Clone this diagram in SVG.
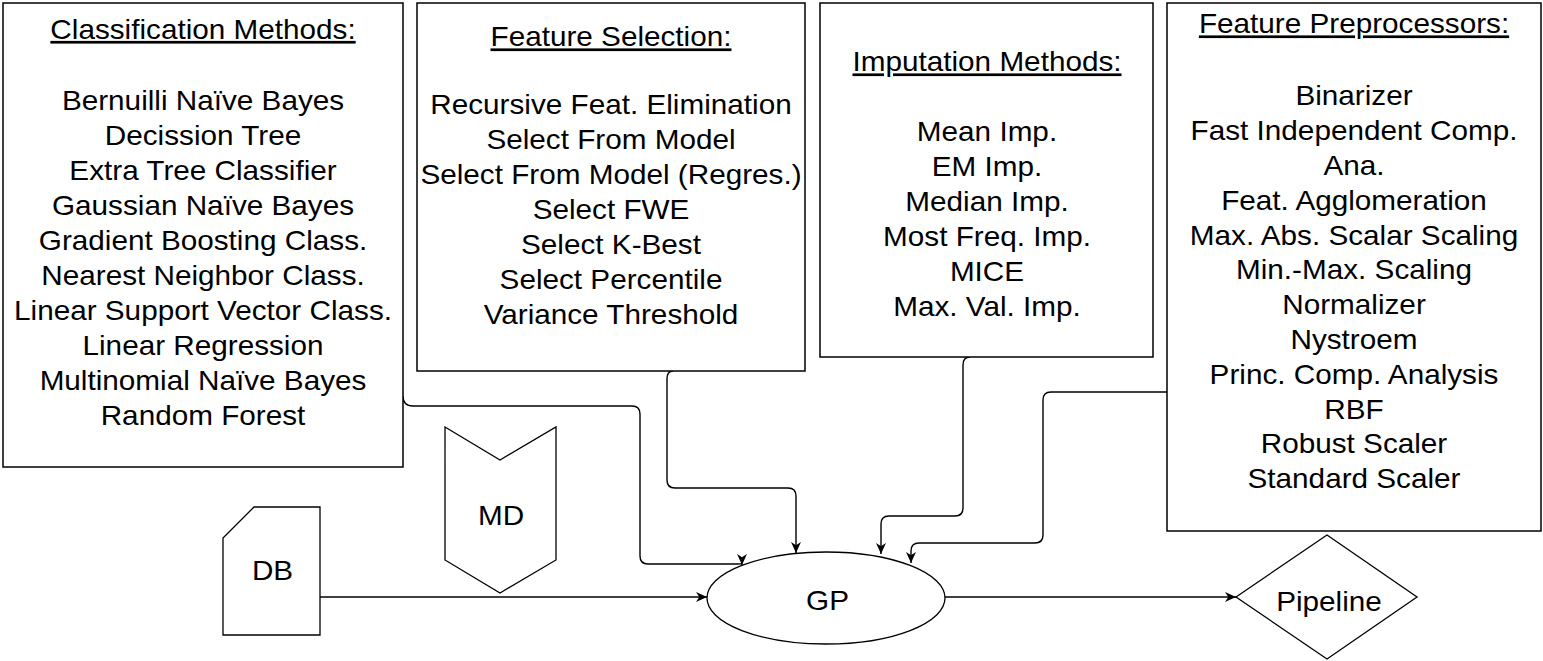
<svg xmlns="http://www.w3.org/2000/svg" width="1543" height="661" viewBox="0 0 1543 661">
<style>
.box{fill:#fff;stroke:#000;stroke-width:1.5}
.shape{fill:#fff;stroke:#000;stroke-width:1.3}
.t{font-family:"Liberation Sans",Arial,sans-serif;font-size:27px;fill:#000;text-anchor:middle}
.h{text-decoration:underline}
.c{fill:none;stroke:#000;stroke-width:1.4}
</style>
<defs>
<marker id="arr" viewBox="0 0 10 10" refX="10" refY="5" markerWidth="11" markerHeight="11" markerUnits="userSpaceOnUse" orient="auto">
<path d="M0,0.5 L10,5 L0,9.5 L3,5 z" fill="#000"/>
</marker>
</defs>
<rect width="1543" height="661" fill="#fff"/>
<g id="connectors">
<path class="c" d="M403,396 Q403,406 413,406 L632,406 Q640,406 640,414 L640,556 Q640,564 648,564 L738,564 Q742,564 742,563 L742,565" marker-end="url(#arr)"/>
<path class="c" d="M673,371 Q667,371 667,379 L667,480 Q667,488 675,488 L788,488 Q796,488 796,496 L796,553" marker-end="url(#arr)"/>
<path class="c" d="M970,357 Q963,357 963,365 L963,508 Q963,516 955,516 L889,516 Q881,516 881,524 L881,554" marker-end="url(#arr)"/>
<path class="c" d="M1167,392 L1051,392 Q1043,392 1043,400 L1043,535 Q1043,543 1035,543 L919,543 Q911,543 911,551 L911,563" marker-end="url(#arr)"/>
<path class="c" d="M320,597 L707,597" marker-end="url(#arr)"/>
<path class="c" d="M945,597 L1236,597" marker-end="url(#arr)"/>
</g>
<g id="classification">
<rect class="box" x="3" y="3" width="400" height="464"/>
<g transform="translate(203,0) scale(1.1,1)">
<text class="t h" x="0" y="39">Classification Methods:</text>
<text class="t" x="0" y="110.5">Bernuilli Naïve Bayes</text>
<text class="t" x="0" y="145.4">Decission Tree</text>
<text class="t" x="0" y="180.3">Extra Tree Classifier</text>
<text class="t" x="0" y="215.2">Gaussian Naïve Bayes</text>
<text class="t" x="0" y="250.1">Gradient Boosting Class.</text>
<text class="t" x="0" y="285">Nearest Neighbor Class.</text>
<text class="t" x="0" y="319.9">Linear Support Vector Class.</text>
<text class="t" x="0" y="354.8">Linear Regression</text>
<text class="t" x="0" y="389.7">Multinomial Naïve Bayes</text>
<text class="t" x="0" y="424.6">Random Forest</text>
</g>
</g>
<g id="feature-selection">
<rect class="box" x="417" y="3" width="388" height="368"/>
<g transform="translate(611,0) scale(1.1,1)">
<text class="t h" x="0" y="46.5">Feature Selection:</text>
<text class="t" x="0" y="114.5">Recursive Feat. Elimination</text>
<text class="t" x="0" y="149.5">Select From Model</text>
<text class="t" x="0" y="184.5">Select From Model (Regres.)</text>
<text class="t" x="0" y="219.5">Select FWE</text>
<text class="t" x="0" y="254.5">Select K-Best</text>
<text class="t" x="0" y="289.5">Select Percentile</text>
<text class="t" x="0" y="324.5">Variance Threshold</text>
</g>
</g>
<g id="imputation">
<rect class="box" x="820" y="3" width="333" height="354"/>
<g transform="translate(987,0) scale(1.1,1)">
<text class="t h" x="0" y="71.5">Imputation Methods:</text>
<text class="t" x="0" y="141.5">Mean Imp.</text>
<text class="t" x="0" y="176.5">EM Imp.</text>
<text class="t" x="0" y="211.5">Median Imp.</text>
<text class="t" x="0" y="246.5">Most Freq. Imp.</text>
<text class="t" x="0" y="281.5">MICE</text>
<text class="t" x="0" y="316.5">Max. Val. Imp.</text>
</g>
</g>
<g id="preprocessors">
<rect class="box" x="1167" y="3" width="374" height="528"/>
<g transform="translate(1354,0) scale(1.1,1)">
<text class="t h" x="0" y="33.5">Feature Preprocessors:</text>
<text class="t" x="0" y="105.5">Binarizer</text>
<text class="t" x="0" y="140.3">Fast Independent Comp.</text>
<text class="t" x="0" y="175.1">Ana.</text>
<text class="t" x="0" y="209.9">Feat. Agglomeration</text>
<text class="t" x="0" y="244.7">Max. Abs. Scalar Scaling</text>
<text class="t" x="0" y="279.5">Min.-Max. Scaling</text>
<text class="t" x="0" y="314.3">Normalizer</text>
<text class="t" x="0" y="349.1">Nystroem</text>
<text class="t" x="0" y="383.9">Princ. Comp. Analysis</text>
<text class="t" x="0" y="418.7">RBF</text>
<text class="t" x="0" y="453.5">Robust Scaler</text>
<text class="t" x="0" y="488.3">Standard Scaler</text>
</g>
</g>
<g id="db">
<path class="shape" d="M254,507 L320,507 L320,635 L223,635 L223,538 Z"/>
<text class="t" transform="translate(272.5,0) scale(1.1,1)" x="0" y="580">DB</text>
</g>
<g id="md">
<path class="shape" d="M445,427 L500,460 L556,427 L556,560 L500,593 L445,560 Z"/>
<text class="t" transform="translate(501,0) scale(1.1,1)" x="0" y="525">MD</text>
</g>
<g id="gp">
<ellipse class="shape" cx="826" cy="598" rx="119" ry="46"/>
<text class="t" transform="translate(827.5,0) scale(1.1,1)" x="0" y="610">GP</text>
</g>
<g id="pipeline">
<path class="shape" d="M1236,597 L1327,535 L1417,597 L1327,659 Z"/>
<text class="t" transform="translate(1329,0) scale(1.1,1)" x="0" y="611">Pipeline</text>
</g>
</svg>
